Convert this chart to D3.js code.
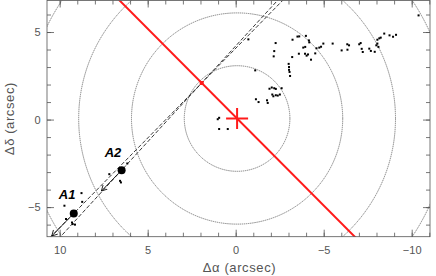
<!DOCTYPE html>
<html>
<head>
<meta charset="utf-8">
<script src="https://cdn.jsdelivr.net/npm/d3@7"></script>
<style>
  body { margin: 0; background: #fff; }
  svg { display: block; }
  text { font-family: "Liberation Sans", Arial, sans-serif; }
</style>
</head>
<body>
<svg id="chart" width="436" height="276"></svg>
<script>
// axis extents in arcsec (RA offset grows to the left)
const xDomain = [10.72, -11.04];
const yDomain = [-6.69, 6.8];
const xTicks = [10, 5, 0, -5, -10];
const yTicks = [-5, 0, 5];
const xMinor = d3.range(-11, 11);
const yMinor = d3.range(-6, 7);

const ringRadii = [3, 6, 9, 12];
const center = [-0.08, 0.06];
const redPoint = [1.93, 2.09];

const sourceNames = ["A1", "A2"];
const sourcePos = [[9.2, -5.36], [6.48, -2.89]];
const arrowEnds = [[10.45, -6.65], [7.63, -4.08]];

const dots = [
  [-0.72, 4.58], [-2.27, 4.37], [-2.19, 3.91], [-2.16, 3.61], [-3.23, 4.56],
  [-3.51, 4.74], [-3.61, 4.75], [-3.99, 4.78], [-4.16, 4.52], [-4.18, 4.41],
  [-3.84, 4.11], [-3.95, 4.15], [-3.59, 3.76], [-3.21, 3.57], [-3.94, 3.76],
  [-4.11, 3.72], [-4.03, 3.65], [-4.28, 3.42], [-4.52, 3.78], [-4.59, 4.07],
  [-4.75, 4.11], [-4.85, 4.16], [-4.98, 4.34], [-5.51, 4.34], [-6.02, 3.95],
  [-6.34, 4.30], [-6.44, 4.24], [-6.35, 3.99], [-7.02, 4.30], [-7.10, 4.37],
  [-7.16, 4.04], [-7.22, 3.86], [-7.59, 4.05], [-7.68, 3.92], [-7.90, 3.87],
  [-7.99, 4.24], [-8.05, 4.34], [-8.11, 4.15], [-8.05, 4.56], [-8.16, 4.64],
  [-8.24, 4.68], [-8.44, 4.91], [-8.74, 4.81], [-8.94, 4.73], [-9.11, 4.84],
  [-3.01, 3.18], [-3.03, 3.00], [-3.03, 2.84], [-3.06, 2.72], [-3.09, 2.49],
  [-1.11, 2.81], [-1.92, 1.76], [-2.05, 1.83], [-2.19, 1.79], [-2.28, 1.75],
  [-2.61, 1.79], [-2.08, 1.43], [-2.14, 1.33], [-2.28, 1.39], [-2.39, 1.37],
  [-2.51, 1.43], [-1.15, 1.16], [-1.30, 1.00], [-1.78, 1.10], [-1.82, 0.95],
  [0.94, 0.10], [1.02, 0.02], [0.94, -0.54], [0.45, -0.54], [-10.39, 5.95],
  [6.16, -2.51], [7.18, -3.12], [6.57, -3.50], [6.52, -3.59], [8.76, -4.20],
  [8.72, -4.70], [9.73, -4.92], [9.64, -5.68], [9.30, -5.88], [9.26, -5.97],
  [9.13, -6.00]
];

const svg = d3.select("#chart");
const mLeft = 47, mRight = 430, mTop = 0.5, mBottom = 236.7;
const axisColor = "#555";

const x = d3.scaleLinear().domain(xDomain).range([mLeft, mRight]);
const y = d3.scaleLinear().domain(yDomain).range([mBottom, mTop]);

const defs = svg.append("defs");
defs.append("clipPath").attr("id", "plot-clip")
  .append("rect")
  .attr("x", mLeft).attr("y", mTop)
  .attr("width", mRight - mLeft).attr("height", mBottom - mTop);

defs.append("marker")
  .attr("id", "head")
  .attr("viewBox", "-6 -4 7 8")
  .attr("markerWidth", 7).attr("markerHeight", 8)
  .attr("markerUnits", "userSpaceOnUse")
  .attr("orient", "auto")
  .append("path")
  .attr("d", "M-5.5,-3 L0,0 L-5.5,3")
  .attr("fill", "none")
  .attr("stroke", "#000")
  .attr("stroke-width", 0.8);

const plot = svg.append("g").attr("clip-path", "url(#plot-clip)");

// rings around the phase centre
plot.selectAll("circle.ring")
  .data(ringRadii)
  .enter().append("circle")
  .attr("class", "ring")
  .attr("cx", x(center[0]))
  .attr("cy", y(center[1]))
  .attr("r", d => x(0) - x(d))
  .attr("fill", "none")
  .attr("stroke", "#666")
  .attr("stroke-width", 0.8)
  .attr("stroke-dasharray", "1.4,0.7");

// extend a line through two points well past the frame, clip does the rest
function longLine(p, q, t) {
  const dx = q[0] - p[0], dy = q[1] - p[1];
  return [[p[0] - dx * t, p[1] - dy * t], [p[0] + dx * t, p[1] + dy * t]];
}
const line = d3.line().x(d => x(d[0])).y(d => y(d[1]));

// dashed lines from each source through the red point
plot.selectAll("path.dash")
  .data(sourcePos)
  .enter().append("path")
  .attr("class", "dash")
  .attr("d", d => line(longLine(redPoint, d, 10)))
  .attr("fill", "none")
  .attr("stroke", "#222")
  .attr("stroke-width", 0.9)
  .attr("stroke-dasharray", "4,2");

// red axis line through centre
plot.append("path")
  .attr("d", line(longLine(center, redPoint, 10)))
  .attr("fill", "none")
  .attr("stroke", "#ff1a1a")
  .attr("stroke-width", 2);

// small detections
plot.selectAll("rect.dot")
  .data(dots)
  .enter().append("rect")
  .attr("class", "dot")
  .attr("x", d => x(d[0]) - 1)
  .attr("y", d => y(d[1]) - 1)
  .attr("width", 2)
  .attr("height", 2)
  .attr("fill", "#000");

// arrows away from the sources
plot.selectAll("path.arrow")
  .data(sourcePos.map((p, i) => [p, arrowEnds[i]]))
  .enter().append("path")
  .attr("class", "arrow")
  .attr("d", d => line(d))
  .attr("stroke", "#000")
  .attr("stroke-width", 0.8)
  .attr("marker-end", "url(#head)");

// sources
plot.selectAll("circle.src")
  .data(sourcePos)
  .enter().append("circle")
  .attr("class", "src")
  .attr("cx", d => x(d[0]))
  .attr("cy", d => y(d[1]))
  .attr("r", 4)
  .attr("fill", "#000");

svg.selectAll("text.src-label")
  .data(sourceNames)
  .enter().append("text")
  .attr("class", "src-label")
  .attr("x", (d, i) => x(sourcePos[i][0]) + (i === 0 ? -15 : -17))
  .attr("y", (d, i) => y(sourcePos[i][1]) - (i === 0 ? 14 : 13.3))
  .attr("font-size", 13)
  .attr("font-weight", "bold")
  .attr("font-style", "italic")
  .attr("fill", "#000")
  .text(d => d);

// red point and centre cross
plot.append("rect")
  .attr("x", x(redPoint[0]) - 2)
  .attr("y", y(redPoint[1]) - 2)
  .attr("width", 4).attr("height", 4)
  .attr("fill", "#ff1a1a");

const cx = x(center[0]), cy = y(center[1]);
plot.append("path")
  .attr("d", `M${cx - 11},${cy}H${cx + 11}M${cx},${cy - 10.5}V${cy + 10.5}`)
  .attr("stroke", "#ff1a1a")
  .attr("stroke-width", 2);

// frame and ticks on all four sides, pointing inwards
function styleAxis(g) {
  g.select(".domain").remove();
  g.selectAll("line").attr("stroke", axisColor).attr("stroke-width", 0.8);
  g.selectAll("text")
    .attr("fill", axisColor)
    .attr("font-size", 11)
    .attr("font-family", "Liberation Sans, Arial, sans-serif");
}
const minusFmt = d => d3.format("")(d).replace("-", "\u2212");

svg.append("g").attr("transform", `translate(0,${mBottom})`)
  .call(d3.axisBottom(x).tickValues(xTicks).tickSize(-7).tickPadding(9.5).tickFormat(minusFmt))
  .call(styleAxis);
svg.append("g").attr("transform", `translate(0,${mBottom})`)
  .call(d3.axisBottom(x).tickValues(xMinor).tickSize(-4).tickFormat(""))
  .call(styleAxis);
svg.append("g").attr("transform", `translate(0,${mTop})`)
  .call(d3.axisTop(x).tickValues(xTicks).tickSize(-7).tickFormat(""))
  .call(styleAxis);
svg.append("g").attr("transform", `translate(0,${mTop})`)
  .call(d3.axisTop(x).tickValues(xMinor).tickSize(-4).tickFormat(""))
  .call(styleAxis);

svg.append("g").attr("transform", `translate(${mLeft},0)`)
  .call(d3.axisLeft(y).tickValues(yTicks).tickSize(-7).tickPadding(6.5).tickFormat(minusFmt))
  .call(styleAxis);
svg.append("g").attr("transform", `translate(${mLeft},0)`)
  .call(d3.axisLeft(y).tickValues(yMinor).tickSize(-4).tickFormat(""))
  .call(styleAxis);
svg.append("g").attr("transform", `translate(${mRight},0)`)
  .call(d3.axisRight(y).tickValues(yTicks).tickSize(-7).tickFormat(""))
  .call(styleAxis);
svg.append("g").attr("transform", `translate(${mRight},0)`)
  .call(d3.axisRight(y).tickValues(yMinor).tickSize(-4).tickFormat(""))
  .call(styleAxis);

svg.append("rect")
  .attr("x", mLeft).attr("y", mTop)
  .attr("width", mRight - mLeft).attr("height", mBottom - mTop)
  .attr("fill", "none")
  .attr("stroke", axisColor)
  .attr("stroke-width", 0.8);

// axis titles
svg.append("text")
  .attr("x", (mLeft + mRight) / 2 + 1)
  .attr("y", 272)
  .attr("text-anchor", "middle")
  .attr("font-size", 13)
  .attr("letter-spacing", 0.6)
  .attr("fill", axisColor)
  .text("\u0394\u03b1 (arcsec)");

svg.append("text")
  .attr("transform", `translate(14,${(mTop + mBottom) / 2}) rotate(-90)`)
  .attr("text-anchor", "middle")
  .attr("font-size", 13)
  .attr("letter-spacing", 0.6)
  .attr("fill", axisColor)
  .text("\u0394\u03b4 (arcsec)");
</script>
</body>
</html>
